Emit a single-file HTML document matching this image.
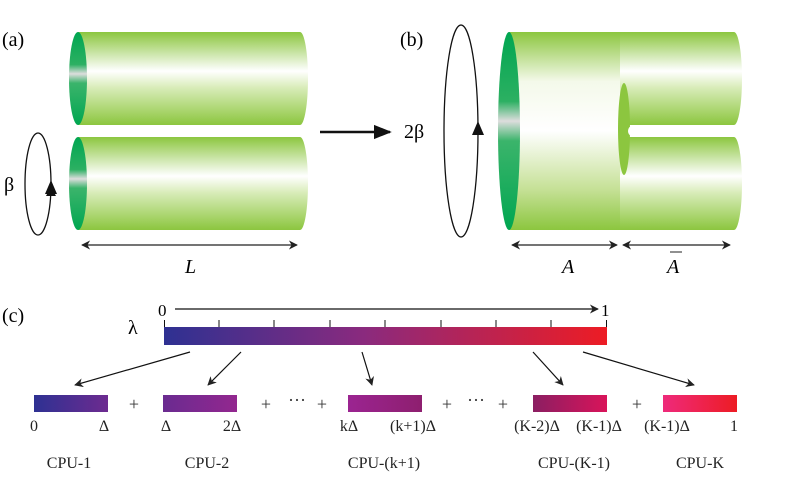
<!DOCTYPE html>
<html><head><meta charset="utf-8"><style>
html,body{margin:0;padding:0;background:#fff;}
svg{display:block;font-family:"Liberation Serif",serif;}
</style></head><body>
<svg width="793" height="479" viewBox="0 0 793 479" xmlns="http://www.w3.org/2000/svg">
<defs>
<linearGradient id="cyl" x1="0" y1="0" x2="0" y2="1">
<stop offset="0" stop-color="#8cc63f"/><stop offset="0.42" stop-color="#ffffff"/><stop offset="0.6" stop-color="#d8ecb8"/><stop offset="1" stop-color="#8cc63f"/>
</linearGradient>
<linearGradient id="big" x1="0" y1="0" x2="0" y2="1">
<stop offset="0" stop-color="#8cc63f"/><stop offset="0.25" stop-color="#f4f9ea"/><stop offset="0.5" stop-color="#ffffff"/><stop offset="0.8" stop-color="#c4e094"/><stop offset="1" stop-color="#8cc63f"/>
</linearGradient>
<linearGradient id="cap" x1="0" y1="0" x2="0" y2="1">
<stop offset="0" stop-color="#00a651"/><stop offset="0.35" stop-color="#2cb062"/><stop offset="0.45" stop-color="#dddddd"/><stop offset="0.55" stop-color="#3bb46b"/><stop offset="1" stop-color="#00a651"/>
</linearGradient>
<linearGradient id="lam" x1="0" x2="1"><stop offset="0" stop-color="#2e3192"/><stop offset="0.45" stop-color="#8a2a7e"/><stop offset="1" stop-color="#ed1c24"/></linearGradient>
<linearGradient id="c1" x1="0" x2="1"><stop offset="0" stop-color="#2e3192"/><stop offset="1" stop-color="#6d2b90"/></linearGradient>
<linearGradient id="c2" x1="0" x2="1"><stop offset="0" stop-color="#6a2b90"/><stop offset="1" stop-color="#93278f"/></linearGradient>
<linearGradient id="c3" x1="0" x2="1"><stop offset="0" stop-color="#9b2491"/><stop offset="1" stop-color="#8e1f6f"/></linearGradient>
<linearGradient id="c4" x1="0" x2="1"><stop offset="0" stop-color="#8b1e62"/><stop offset="1" stop-color="#d9145a"/></linearGradient>
<linearGradient id="c5" x1="0" x2="1"><stop offset="0" stop-color="#ee2a7b"/><stop offset="1" stop-color="#ed1c24"/></linearGradient>
<marker id="ah" viewBox="0 0 10 10" refX="9" refY="5" markerWidth="9" markerHeight="9" orient="auto-start-reverse" markerUnits="userSpaceOnUse"><path d="M0,0 L10,5 L0,10 L3,5 Z" fill="#222"/></marker>
<marker id="ahb" viewBox="0 0 10 10" refX="9" refY="5" markerWidth="18" markerHeight="18" orient="auto" markerUnits="userSpaceOnUse"><path d="M0,1 L10,5 L0,9 Z" fill="#111"/></marker>
</defs>

<!-- (a) -->
<text x="2" y="46" font-size="20">(a)</text>
<path d="M78,32 H300 A8,46.5 0 0 1 300,125 H78 Z" fill="url(#cyl)"/>
<ellipse cx="78" cy="78.5" rx="9" ry="46.5" fill="url(#cap)"/>
<path d="M78,137 H300 A8,46.5 0 0 1 300,230 H78 Z" fill="url(#cyl)"/>
<ellipse cx="78" cy="183.5" rx="9" ry="46.5" fill="url(#cap)"/>
<ellipse cx="38" cy="184" rx="13" ry="51" fill="none" stroke="#111" stroke-width="1.3"/>
<path d="M51,187 l-5,9 h10 Z M51,180 l-6,14 h12 Z" fill="#111"/>
<text x="4" y="191" font-size="20">β</text>
<line x1="82" y1="245" x2="297" y2="245" stroke="#222" stroke-width="1.3" marker-start="url(#ah)" marker-end="url(#ah)"/>
<text x="185" y="273" font-size="20" font-style="italic">L</text>

<line x1="320" y1="132" x2="390" y2="132" stroke="#111" stroke-width="2.5" marker-end="url(#ahb)"/>

<!-- (b) -->
<text x="400" y="46" font-size="20">(b)</text>
<text x="404" y="138" font-size="20">2β</text>
<ellipse cx="461" cy="131" rx="17" ry="106" fill="none" stroke="#111" stroke-width="1.3"/>
<path d="M478,121 l-6,14 h12 Z" fill="#111"/>
<path d="M620,32 H734 A8,46.5 0 0 1 734,125 H620 Z" fill="url(#cyl)"/>
<path d="M620,137 H734 A8,46.5 0 0 1 734,230 H620 Z" fill="url(#cyl)"/>
<path d="M628,125 H632 V137 H628 Z" fill="#fff"/>
<ellipse cx="627" cy="130" rx="4" ry="5" fill="#fff"/>
<path d="M509,32 H620 V230 H509 Z" fill="url(#big)"/>
<ellipse cx="624" cy="129" rx="6" ry="46" fill="#8cc63f"/>
<ellipse cx="632" cy="131" rx="4" ry="5" fill="#fff"/>
<ellipse cx="509" cy="131" rx="11" ry="99" fill="url(#cap)"/>
<line x1="512" y1="245" x2="617" y2="245" stroke="#222" stroke-width="1.3" marker-start="url(#ah)" marker-end="url(#ah)"/>
<line x1="623" y1="245" x2="730" y2="245" stroke="#222" stroke-width="1.3" marker-start="url(#ah)" marker-end="url(#ah)"/>
<text x="562" y="273" font-size="20" font-style="italic">A</text>
<text x="667" y="273" font-size="20" font-style="italic">A</text>
<line x1="670" y1="252" x2="682" y2="252" stroke="#222" stroke-width="1"/>

<!-- (c) -->
<text x="2" y="322" font-size="20">(c)</text>
<text x="128" y="334" font-size="20">λ</text>
<text x="158" y="316" font-size="17">0</text>
<text x="601" y="316" font-size="17">1</text>
<line x1="175" y1="309" x2="598" y2="309" stroke="#111" stroke-width="1.2" marker-end="url(#ah)"/>
<rect x="164" y="327" width="443" height="18" fill="url(#lam)"/>
<g stroke="#111" stroke-width="1">
<line x1="164.5" y1="320" x2="164.5" y2="327"/><line x1="219" y1="320" x2="219" y2="327"/><line x1="274" y1="320" x2="274" y2="327"/><line x1="330" y1="320" x2="330" y2="327"/><line x1="385" y1="320" x2="385" y2="327"/><line x1="441" y1="320" x2="441" y2="327"/><line x1="496" y1="320" x2="496" y2="327"/><line x1="551" y1="320" x2="551" y2="327"/><line x1="606.5" y1="320" x2="606.5" y2="327"/>
</g>
<g stroke="#111" stroke-width="1.2" marker-end="url(#ah)">
<line x1="190" y1="352" x2="75" y2="385"/>
<line x1="241" y1="352" x2="208" y2="385"/>
<line x1="362" y1="352" x2="372" y2="385"/>
<line x1="533" y1="352" x2="563" y2="385"/>
<line x1="583" y1="352" x2="694" y2="385"/>
</g>
<rect x="34" y="395" width="74" height="17" fill="url(#c1)"/>
<rect x="163" y="395" width="74" height="17" fill="url(#c2)"/>
<rect x="348" y="395" width="74" height="17" fill="url(#c3)"/>
<rect x="533" y="395" width="74" height="17" fill="url(#c4)"/>
<rect x="663" y="395" width="74" height="17" fill="url(#c5)"/>
<g font-size="18" fill="#333" text-anchor="middle">
<text x="134" y="410">+</text><text x="266" y="410">+</text><text x="297" y="406">···</text><text x="322" y="410">+</text>
<text x="447" y="410">+</text><text x="476" y="406">···</text><text x="503" y="410">+</text><text x="637" y="410">+</text>
</g>
<g font-size="16" fill="#222" text-anchor="middle">
<text x="34" y="431">0</text><text x="104" y="431">Δ</text>
<text x="166" y="431">Δ</text><text x="232" y="431">2Δ</text>
<text x="349" y="431">kΔ</text><text x="413" y="431">(k+1)Δ</text>
<text x="537" y="431">(K-2)Δ</text><text x="599" y="431">(K-1)Δ</text>
<text x="667" y="431">(K-1)Δ</text><text x="734" y="431">1</text>
<text x="69" y="468">CPU-1</text><text x="207" y="468">CPU-2</text>
<text x="384" y="468">CPU-(k+1)</text><text x="574" y="468">CPU-(K-1)</text><text x="700" y="468">CPU-K</text>
</g>
</svg>
</body></html>
